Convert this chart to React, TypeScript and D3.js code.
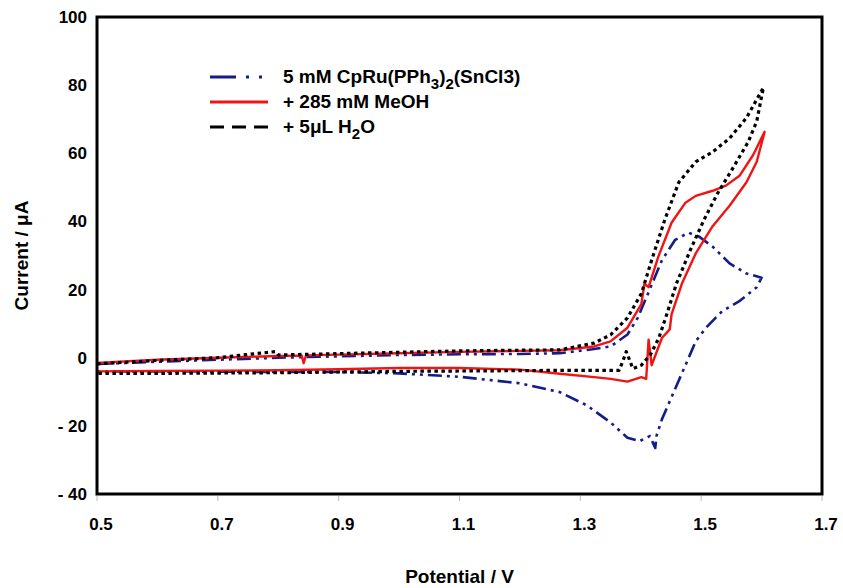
import React from "react";
import * as d3 from "d3";

// cyclic voltammograms, forward scan then reverse scan (V, µA)
const blueV = [0.5, 0.6, 0.7, 0.8, 0.9, 1.0, 1.1, 1.2, 1.266, 1.32, 1.35, 1.378, 1.395, 1.412, 1.435, 1.457, 1.479, 1.496, 1.519, 1.547, 1.575, 1.6,
  1.592, 1.564, 1.535, 1.508, 1.491, 1.474, 1.457, 1.435, 1.426, 1.424, 1.415, 1.398, 1.378, 1.35, 1.311, 1.266, 1.2, 1.1, 1.0, 0.9, 0.8, 0.7, 0.6, 0.5];
const blueI = [-1.8, -1.2, -0.6, 0, 0.4, 0.8, 1.0, 1.1, 1.3, 2.5, 3.3, 6.8, 11.7, 18.8, 28.6, 34.6, 36.7, 35.6, 32.6, 27.7, 24.7, 23.5,
  20.7, 16.7, 13.7, 8.8, 4.8, -2.2, -9.1, -18.1, -23, -26.5, -23, -24.5, -23.5, -19, -14, -10.1, -7.5, -5.6, -4.6, -4.2, -4.2, -4.1, -4.0, -4.0];

const redV = [0.5, 0.6, 0.7, 0.8, 0.839, 0.842, 0.846, 0.9, 1.0, 1.1, 1.2, 1.266, 1.323, 1.35, 1.378, 1.401, 1.406, 1.413, 1.429, 1.451, 1.474, 1.491, 1.519, 1.541, 1.564, 1.586, 1.605,
  1.592, 1.575, 1.547, 1.519, 1.491, 1.468, 1.451, 1.448, 1.435, 1.418, 1.413, 1.409, 1.401, 1.378, 1.35, 1.323, 1.266, 1.2, 1.1, 1.0, 0.9, 0.8, 0.7, 0.6, 0.5];
const redI = [-1.5, -0.6, 0, 0.5, 0.6, -1.6, 0.7, 0.9, 1.3, 1.7, 2.0, 2.2, 3.3, 4.8, 8.8, 15.7, 21.7, 20.7, 29.6, 39.6, 45.5, 47.5, 49, 50.5, 53.5, 59.5, 66.3,
  57.5, 51.5, 44.6, 38.6, 30.6, 21.7, 12.7, 8.3, 5.8, -2.2, 5.3, -6.2, -5.7, -7, -6.2, -5.7, -4.7, -3.5, -3.0, -3.0, -3.4, -3.7, -3.8, -3.9, -4.0];

const blackV = [0.5, 0.6, 0.7, 0.795, 0.8, 0.9, 1.0, 1.1, 1.2, 1.266, 1.323, 1.35, 1.378, 1.401, 1.418, 1.44, 1.463, 1.491, 1.519, 1.547, 1.575, 1.603,
  1.592, 1.578, 1.552, 1.528, 1.505, 1.482, 1.459, 1.443, 1.43, 1.416, 1.401, 1.387, 1.376, 1.37, 1.364, 1.323, 1.266, 1.2, 1.1, 1.0, 0.9, 0.8, 0.7, 0.6, 0.5];
const blackI = [-1.8, -0.8, 0, 1.8, 0.8, 1.2, 1.6, 2.0, 2.2, 2.3, 4.3, 6.7, 11.7, 18.8, 28.6, 40.6, 51.5, 57.5, 60.4, 64.4, 70.4, 79.3,
  69.4, 63.4, 55.5, 48.5, 40.6, 31.6, 21.7, 12.7, 5.8, 0.9, -2.2, -3.2, 1.8, -1.2, -3.7, -3.7, -3.7, -3.8, -3.9, -4.0, -4.2, -4.4, -4.5, -4.6, -4.6];

const xTicks = [0.5, 0.7, 0.9, 1.1, 1.3, 1.5, 1.7];
const yTicks = [100, 80, 60, 40, 20, 0, -20, -40];

const left = 97;
const right = 822;
const top = 17;
const bottom = 494;

const font = "'Liberation Sans', Arial, sans-serif";

export default function App() {
  const x = d3.scaleLinear().domain([0.5, 1.7]).range([left, right]);
  const y = d3.scaleLinear().domain([-40, 100]).range([bottom, top]);

  const line = (vs: number[], is: number[]) =>
    d3.line<number>()
      .x((d, k) => x(vs[k]))
      .y((d) => y(d))(is) || "";

  const fmtY = (v: number) => (v < 0 ? "- " + Math.abs(v) : String(v));

  const series = [
    { key: "blue", d: line(blueV, blueI), color: "#141c8a", width: 2.6, dash: "14,5,3,5,3,5" },
    { key: "red", d: line(redV, redI), color: "#f01414", width: 2.4, dash: "none" },
    { key: "black", d: line(blackV, blackI), color: "#000000", width: 3.2, dash: "3.5,3.5" },
  ];

  const legendY = [77, 102, 127];

  return (
    <svg width={843} height={588} style={{ position: "absolute", left: 0, top: 0, background: "#fff" }}
      fontFamily={font}>
      <rect x={0} y={0} width={843} height={588} fill="#fff" />
      {series.map((s) => (
        <path key={s.key} d={s.d} fill="none" stroke={s.color} strokeWidth={s.width}
          strokeDasharray={s.dash} strokeLinejoin="round" />
      ))}

      <rect x={left} y={top} width={right - left} height={bottom - top} fill="none" stroke="#000" strokeWidth={3} />

      {xTicks.map((t) => (
        <g key={t}>
          <line x1={x(t)} x2={x(t)} y1={bottom + 2} y2={bottom + 7} stroke="#bbb" strokeWidth={1} />
          <text x={x(t) + 4} y={530} textAnchor="middle" fontSize={17} fontWeight="bold">{t.toFixed(1)}</text>
        </g>
      ))}
      {yTicks.map((t) => (
        <text key={t} x={87} y={y(t) + 6} textAnchor="end" fontSize={17} fontWeight="bold">{fmtY(t)}</text>
      ))}

      <text transform={`translate(28,${(top + bottom) / 2}) rotate(-90)`} textAnchor="middle" fontSize={19} fontWeight="bold">
        Current / μA
      </text>
      <text x={(left + right) / 2} y={583} textAnchor="middle" fontSize={19} fontWeight="bold">Potential / V</text>

      {/* legend */}
      <line x1={210} x2={268} y1={legendY[0]} y2={legendY[0]} stroke="#141c8a" strokeWidth={3} strokeDasharray="26,10,3,10,3,9" />
      <line x1={210} x2={268} y1={legendY[1]} y2={legendY[1]} stroke="#f01414" strokeWidth={3} />
      <line x1={210} x2={268} y1={legendY[2]} y2={legendY[2]} stroke="#000" strokeWidth={3} strokeDasharray="14,8" />
      <text x={283} y={legendY[0] + 6} fontSize={19} fontWeight="bold">
        5 mM CpRu(PPh<tspan dy={6} fontSize={15}>3</tspan><tspan dy={-6}>)</tspan>
        <tspan dy={6} fontSize={15}>2</tspan><tspan dy={-6}>(SnCl3)</tspan>
      </text>
      <text x={283} y={legendY[1] + 6} fontSize={19} fontWeight="bold">+ 285 mM MeOH</text>
      <text x={283} y={legendY[2] + 6} fontSize={19} fontWeight="bold">
        + 5μL H<tspan dy={6} fontSize={15}>2</tspan><tspan dy={-6}>O</tspan>
      </text>
    </svg>
  );
}
